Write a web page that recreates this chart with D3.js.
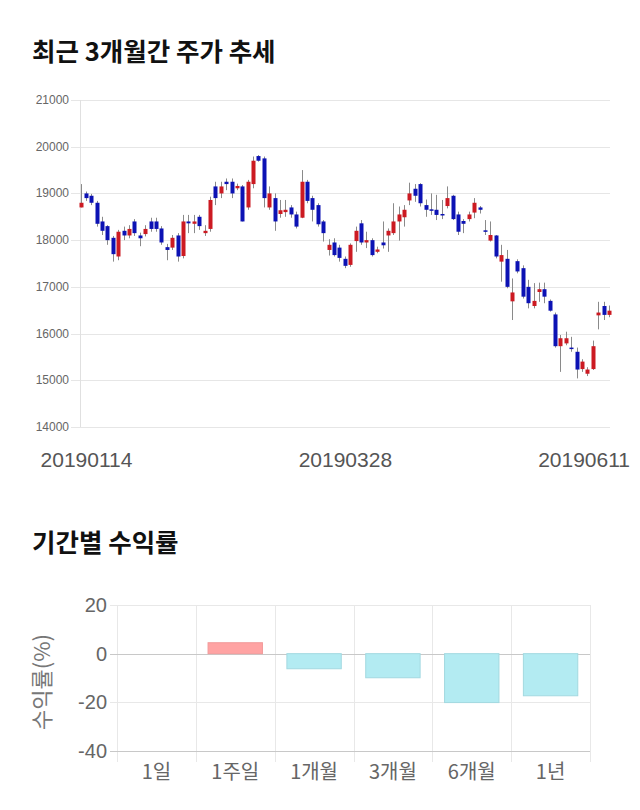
<!DOCTYPE html>
<html><head><meta charset="utf-8">
<script src="https://cdn.jsdelivr.net/npm/d3@7"></script>
<style>
body{margin:0;background:#fff;}
svg{display:block;}
</style></head>
<body>
<svg id="chart" width="640" height="810"></svg>
<script>
// ---------- candlestick data ----------
const dates = [
"20190114","20190115","20190116","20190117","20190118","20190121","20190122","20190123","20190124","20190125",
"20190128","20190129","20190130","20190131","20190207","20190208","20190211","20190212","20190213","20190214",
"20190215","20190218","20190219","20190220","20190221","20190222","20190225","20190226","20190227","20190228",
"20190304","20190305","20190306","20190307","20190308","20190311","20190312","20190313","20190314","20190315",
"20190318","20190319","20190320","20190321","20190322","20190325","20190326","20190327","20190328","20190329",
"20190401","20190402","20190403","20190404","20190405","20190408","20190409","20190410","20190411","20190412",
"20190415","20190416","20190417","20190418","20190419","20190422","20190423","20190424","20190425","20190426",
"20190429","20190430","20190502","20190503","20190507","20190508","20190509","20190510","20190513","20190514",
"20190515","20190516","20190517","20190520","20190521","20190522","20190523","20190524","20190527","20190528",
"20190529","20190530","20190531","20190603","20190604","20190605","20190607","20190610","20190611"];
const opens = [
18700,19000,18950,18800,18400,18300,18050,17650,18200,18100,
18400,18100,18130,18400,18400,18250,17850,17840,18100,17660,
18400,18350,18500,18150,18240,19150,19000,19250,19250,19110,
19150,18700,19200,19800,19750,18700,18900,18560,18600,18700,
18550,18480,19250,18900,18750,18400,17790,17950,17840,17600,
17470,17980,18360,17950,18000,17750,17950,18100,18150,18400,
18490,18850,19100,19200,18750,18660,18650,18560,18730,18950,
18550,18410,18450,18590,18700,18210,17990,18100,17540,17600,
16690,17550,17400,17000,16590,16890,16950,16700,16410,15730,
15790,15700,15610,15240,15140,15240,16390,16590,16400];
const highs = [
19200,19040,18990,18840,18500,18320,18090,18220,18290,18320,
18450,18160,18320,18480,18480,18300,17920,18110,18150,18540,
18540,18540,18540,18320,18930,19250,19250,19320,19320,19210,
19180,19290,19790,19820,19790,19150,19000,18860,18860,18750,
18610,19500,19290,18950,18790,18430,18020,18040,17900,17650,
17930,18290,18430,18180,18040,17860,18400,18250,18790,18720,
18750,19230,19200,19220,18870,19000,18970,18860,19150,18970,
18610,18450,18610,18900,18730,18430,18400,18110,17900,17790,
17180,17590,17460,17150,17080,17090,17090,16730,16450,15970,
16040,15930,15700,15450,15280,15850,16680,16680,16600];
const lows = [
18700,18840,18750,18290,18110,17900,17540,17570,18000,18040,
18090,17870,18080,18180,18180,17900,17570,17790,17540,17610,
18150,18150,18220,18090,18180,18750,18900,19070,18900,19070,
18400,18650,19110,19680,18700,18650,18200,18480,18500,18480,
18250,18470,18790,18400,18290,17970,17670,17650,17540,17400,
17430,17750,17900,17830,17650,17720,17820,17750,18110,17990,
18290,18750,18820,18720,18500,18540,18430,18450,18680,18430,
18110,18150,18400,18470,18570,18110,17970,17610,17110,16970,
16290,17290,16750,16540,16540,16680,16650,16470,15700,15180,
15750,15610,15040,15180,15090,15220,16090,16290,16350];
const closes = [
18800,18900,18800,18350,18200,18000,17700,18180,18100,18240,
18150,18040,18240,18240,18240,17950,17790,18050,17650,18400,
18360,18400,18300,18200,18860,18900,19150,19200,19000,19160,
18400,19250,19700,19700,18900,19000,18400,18640,18650,18550,
18290,19250,18840,18650,18340,18150,17900,17680,17620,17450,
17900,18200,17950,18000,17680,17800,17890,18200,18400,18550,
18650,19000,18950,18790,18650,18640,18540,18545,18900,18450,
18180,18350,18550,18800,18650,18200,18110,17650,17680,17000,
16880,17330,16790,16650,16700,16950,16790,16490,15730,15900,
15900,15680,15230,15400,15230,15730,16450,16400,16490];
const priceTicks = [14000,15000,16000,17000,18000,19000,20000,21000];
const dateLabels = ["20190114","20190328","20190611"];

// ---------- return data ----------
const periods = ["1일","1주일","1개월","3개월","6개월","1년"];
const returns = [0, 4.5, -6.2, -9.9, -20.1, -17.3];
const returnTicks = [20, 0, -20, -40];

const svg = d3.select("#chart");
const KR = "'Noto Sans CJK KR','Noto Sans',sans-serif";
const SANS = "'Liberation Sans',Arial,sans-serif";

// ---------- titles ----------
svg.append("text").attr("x", 32).attr("y", 61).text("최근 3개월간 주가 추세")
  .attr("font-family", KR).attr("font-weight", 700).attr("font-size", 25.5).attr("fill", "#111");
svg.append("text").attr("x", 32).attr("y", 552).text("기간별 수익률")
  .attr("font-family", KR).attr("font-weight", 700).attr("font-size", 25.5).attr("fill", "#111");

// ---------- candlestick chart ----------
const candles = dates.map((d, i) => ({d, o: opens[i], h: highs[i], l: lows[i], c: closes[i]}));
const x = d3.scalePoint().domain(dates).range([80.5, 609]);
const y = d3.scaleLinear().domain([14000, 21000]).range([427, 100]);

const g1 = svg.append("g");
g1.selectAll("line.grid").data(priceTicks).join("line")
  .attr("x1", 71).attr("x2", 610)
  .attr("y1", d => Math.round(y(d)) + 0.5).attr("y2", d => Math.round(y(d)) + 0.5)
  .attr("stroke", "#e6e6e6").attr("stroke-width", 1);
g1.append("line").attr("x1", 80.5).attr("x2", 80.5).attr("y1", y(21000)).attr("y2", y(14000))
  .attr("stroke", "#e0e0e0");
g1.selectAll("text.pt").data(priceTicks).join("text")
  .attr("x", 69).attr("y", d => y(d) + 4).attr("text-anchor", "end")
  .attr("font-family", SANS).attr("font-size", 12).attr("fill", "#666").text(d => d);

const cg = g1.selectAll("g.candle").data(candles).join("g");
cg.append("line")
  .attr("x1", d => Math.round(x(d.d)) + 0.5).attr("x2", d => Math.round(x(d.d)) + 0.5)
  .attr("y1", d => y(d.h)).attr("y2", d => y(d.l))
  .attr("stroke", "#8a8a8a").attr("stroke-width", 1);
cg.append("rect")
  .attr("x", d => Math.round(x(d.d)) - 1.5).attr("width", 4)
  .attr("y", d => y(Math.max(d.o, d.c)))
  .attr("height", d => Math.max(1.5, Math.abs(y(d.o) - y(d.c))))
  .attr("fill", d => d.c >= d.o ? "#cc1a22" : "#0c12b4");

g1.selectAll("text.dl").data(dateLabels).join("text")
  .attr("x", (d, i) => i === dateLabels.length - 1 ? 630 : x(d) + 6)
  .attr("text-anchor", (d, i) => i === dateLabels.length - 1 ? "end" : "middle")
  .attr("y", 467)
  .attr("font-family", SANS).attr("font-size", 21).attr("fill", "#555").text(d => d);

// ---------- returns bar chart ----------
const xb = d3.scaleBand().domain(periods).range([117, 590]);
const yb = d3.scaleLinear().domain([-40, 20]).range([751, 605]);
const g2 = svg.append("g");
const vlines = periods.map(p => xb(p)).concat([xb.range()[1]]);
g2.selectAll("line.vg").data(vlines).join("line")
  .attr("x1", d => Math.round(d) + 0.5).attr("x2", d => Math.round(d) + 0.5)
  .attr("y1", yb(20)).attr("y2", yb(-40) + 11)
  .attr("stroke", "#e8e8e8");
g2.selectAll("line.hg").data(returnTicks).join("line")
  .attr("x1", 110).attr("x2", 590)
  .attr("y1", d => Math.round(yb(d)) + 0.5).attr("y2", d => Math.round(yb(d)) + 0.5)
  .attr("stroke", d => (d === 0 || d === -40) ? "#c8c8c8" : "#e8e8e8");
g2.selectAll("text.rt").data(returnTicks).join("text")
  .attr("x", 107).attr("y", d => yb(d) + 7).attr("text-anchor", "end")
  .attr("font-family", SANS).attr("font-size", 20).attr("fill", "#666").text(d => d);
g2.append("text")
  .attr("transform", `translate(50,${(yb(20) + yb(-40)) / 2 + 4}) rotate(-90)`)
  .attr("text-anchor", "middle")
  .attr("font-family", KR).attr("font-size", 22).attr("fill", "#777").text("수익률(%)");

const bw = xb.bandwidth() * 0.69;
g2.selectAll("rect.bar").data(periods.map((p, i) => ({p, v: returns[i]})).filter(d => d.v !== 0)).join("rect")
  .attr("x", d => xb(d.p) + (xb.bandwidth() - bw) / 2).attr("width", bw)
  .attr("y", d => yb(Math.max(0, d.v))).attr("height", d => Math.abs(yb(d.v) - yb(0)))
  .attr("fill", d => d.v >= 0 ? "#ffa3a3" : "#b3ebf2")
  .attr("stroke", d => d.v >= 0 ? "#f29a9a" : "#a3d9e0").attr("stroke-width", 1);

g2.selectAll("text.cat").data(periods).join("text")
  .attr("x", d => xb(d) + xb.bandwidth() / 2).attr("y", 779).attr("text-anchor", "middle")
  .attr("font-family", KR).attr("font-size", 20).attr("fill", "#666").text(d => d);
</script>
</body></html>
